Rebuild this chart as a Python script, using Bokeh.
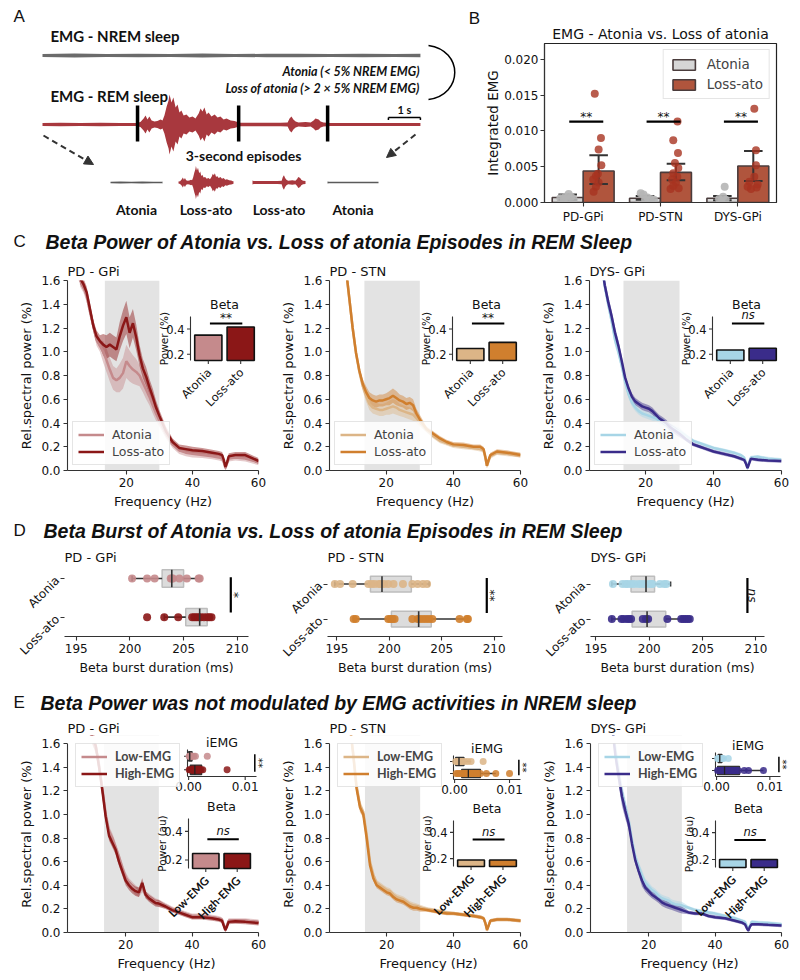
import math
import numpy as np
from bokeh.plotting import figure
from bokeh.layouts import column, row
from bokeh.models import (Range1d, FixedTicker, PrintfTickFormatter, BoxAnnotation,
                          Legend, LegendItem, Arrow, NormalHead, Label)
from bokeh.core.properties import value
from bokeh.embed import file_html
from bokeh.resources import INLINE

# ============================ DATA ============================
# --- Panel A: EMG envelopes (half amplitude) vs time (s)
nrem_t = [0.0, 1.0, 2.0, 3.0, 4.0, 5.0, 6.0, 7.0, 8.0, 9.0, 10.0, 11.0, 11.81]
nrem_env = [1.6, 1.9, 1.5, 1.8, 1.6, 1.9, 1.5, 1.7, 1.8, 1.5, 1.8, 1.6, 1.7]
rem_t = [0.00, 0.56, 1.19, 1.81, 2.44, 2.94, 3.06, 3.16, 3.22, 3.28, 3.34, 3.41, 3.50, 3.59, 3.69, 3.75,
         3.81, 3.88, 3.94, 3.97, 4.03, 4.09, 4.16, 4.22, 4.28, 4.34, 4.41, 4.50, 4.59, 4.69, 4.78, 4.88,
         4.94, 5.00, 5.06, 5.13, 5.19, 5.28, 5.38, 5.47, 5.56, 5.66, 5.75, 5.88, 6.00, 6.09, 6.19, 6.81,
         7.44, 7.66, 7.72, 7.78, 7.84, 7.91, 8.00, 8.22, 8.38, 8.47, 8.53, 8.63, 8.69, 8.78, 9.00, 9.94,
         10.88, 11.81]
rem_env = [1.5, 1.8, 1.5, 1.8, 1.5, 1.6, 2.5, 6, 9, 5, 8, 4, 3, 3.5, 5, 4,
           9, 18, 24, 30, 22, 27, 17, 20, 12, 14, 9, 10, 7, 8, 6, 11,
           16, 13, 17, 10, 12, 8, 10, 7, 8, 5, 6, 4, 3.5, 2.5, 1.8, 1.7,
           1.8, 2, 6, 8, 5, 3, 2, 2.5, 2, 4, 6, 5, 3, 2, 1.6, 1.5,
           1.6, 1.5]
episode_bounds = [0.0, 2.97, 6.13, 8.91, 11.81]
episode_names = ["Atonia", "Loss-ato", "Loss-ato", "Atonia"]

# --- Panel B: integrated EMG
b_groups = ["PD-GPi", "PD-STN", "DYS-GPi"]
b_atonia_mean = [0.0007, 0.0006, 0.0006]
b_atonia_lo = [0.0004, 0.0004, 0.0003]
b_atonia_hi = [0.0011, 0.0009, 0.0009]
b_loss_mean = [0.0044, 0.0042, 0.0051]
b_loss_lo = [0.0026, 0.0031, 0.0030]
b_loss_hi = [0.0066, 0.0054, 0.0072]
b_atonia_pts = [[0.0012, 0.0008, 0.0008, 0.0006, 0.0005, 0.0004, 0.0004],
                [0.0013, 0.0011, 0.0007, 0.0005, 0.0004, 0.0004],
                [0.0022, 0.0008, 0.0005, 0.0004, 0.0002]]
b_atonia_jit = [[0.013, -0.03, 0.043, -0.095, -0.05, 0.078, -0.01],
                [-0.056, -0.02, 0.03, 0.073, 0.0, 0.116],
                [0.03, 0.01, -0.043, 0.043, -0.013]]
b_loss_pts = [[0.0152, 0.0090, 0.0074, 0.0052, 0.0040, 0.0037, 0.0032, 0.0028, 0.0022, 0.0015],
              [0.0113, 0.0087, 0.0069, 0.0055, 0.0048, 0.0041, 0.0036, 0.0032, 0.0028, 0.0023, 0.0020, 0.0019],
              [0.0131, 0.0073, 0.0052, 0.0036, 0.0029, 0.0025, 0.0022, 0.0021, 0.0019]]
b_loss_jit = [[-0.05, 0.03, 0.0, 0.035, -0.01, -0.035, -0.07, 0.0, -0.035, -0.065],
              [0.02, -0.035, 0.026, -0.013, 0.03, -0.035, 0.017, -0.05, 0.0, -0.035, 0.035, -0.07],
              [0.013, 0.035, 0.035, 0.013, -0.05, 0.056, -0.073, 0.043, -0.03]]
b_sig = ["**", "**", "**"]
b_sig_y = 0.0113

# --- Spectra (C and E): relative spectral power (%) vs frequency (Hz)
freq = [4, 5, 6, 7, 8, 9, 10, 11, 12, 13, 14, 15, 16, 17, 18, 19, 20, 21, 22, 23, 24, 25, 26, 27, 28, 29, 30,
        32, 34, 36, 38, 40, 43, 46, 48, 49, 49.5, 50, 50.5, 51, 53, 56, 60]
beta_band = [13.5, 30]

c_gpi_atonia = [2.25, 1.95, 1.60, 1.55, 1.47, 1.34, 1.22, 1.10, 1.05, 1.00, 0.93, 0.85, 0.78, 0.76, 0.78, 0.82,
                0.92, 0.88, 0.85, 0.83, 0.80, 0.74, 0.68, 0.62, 0.55, 0.48, 0.42, 0.31, 0.22, 0.17, 0.15, 0.14,
                0.13, 0.12, 0.11, 0.10, 0.07, 0.02, 0.06, 0.10, 0.11, 0.10, 0.07]
c_gpi_loss = [2.30, 2.00, 1.62, 1.57, 1.50, 1.36, 1.22, 1.13, 1.09, 1.06, 1.04, 1.06, 1.04, 1.02, 1.13, 1.22,
              1.29, 1.16, 1.24, 1.12, 0.97, 0.86, 0.79, 0.70, 0.62, 0.53, 0.46, 0.33, 0.24, 0.19, 0.18, 0.17,
              0.165, 0.15, 0.14, 0.13, 0.09, 0.03, 0.07, 0.12, 0.13, 0.13, 0.08]
c_gpi_sem = [0.05, 0.05, 0.05, 0.05, 0.05, 0.05, 0.05, 0.05, 0.05, 0.09, 0.10, 0.10, 0.10, 0.10, 0.12, 0.13,
             0.14, 0.13, 0.12, 0.11, 0.09, 0.08, 0.08, 0.07, 0.07, 0.06, 0.05, 0.04, 0.03, 0.03, 0.03, 0.03,
             0.025, 0.025, 0.025, 0.025, 0.025, 0.025, 0.025, 0.025, 0.025, 0.025, 0.025]
c_stn_atonia = [3.50, 3.00, 2.40, 2.00, 1.70, 1.45, 1.20, 0.99, 0.83, 0.71, 0.63, 0.56, 0.53, 0.52, 0.51, 0.51,
                0.52, 0.53, 0.54, 0.53, 0.51, 0.50, 0.49, 0.48, 0.47, 0.44, 0.41, 0.34, 0.29, 0.25, 0.23, 0.21,
                0.20, 0.19, 0.18, 0.17, 0.11, 0.04, 0.08, 0.12, 0.15, 0.14, 0.13]
c_stn_loss = [3.50, 3.00, 2.40, 2.00, 1.70, 1.45, 1.20, 0.99, 0.84, 0.73, 0.66, 0.61, 0.59, 0.58, 0.59, 0.59,
              0.60, 0.61, 0.63, 0.61, 0.59, 0.58, 0.56, 0.57, 0.55, 0.48, 0.43, 0.35, 0.31, 0.27, 0.24, 0.22,
              0.215, 0.20, 0.20, 0.18, 0.12, 0.04, 0.09, 0.13, 0.16, 0.15, 0.13]
c_stn_sem = [0.03, 0.03, 0.03, 0.03, 0.03, 0.03, 0.03, 0.03, 0.03, 0.04, 0.05, 0.05, 0.05, 0.05, 0.05, 0.05,
             0.05, 0.06, 0.06, 0.06, 0.05, 0.05, 0.05, 0.05, 0.05, 0.04, 0.04, 0.02, 0.02, 0.02, 0.02, 0.02,
             0.02, 0.02, 0.02, 0.02, 0.02, 0.02, 0.02, 0.02, 0.02, 0.02, 0.02]
c_dys_atonia = [3.00, 2.50, 2.00, 1.74, 1.55, 1.40, 1.26, 1.10, 1.00, 0.88, 0.74, 0.64, 0.57, 0.53, 0.50, 0.48,
                0.47, 0.46, 0.45, 0.44, 0.42, 0.41, 0.39, 0.37, 0.36, 0.34, 0.33, 0.29, 0.25, 0.23, 0.21, 0.19,
                0.17, 0.15, 0.13, 0.11, 0.07, 0.02, 0.07, 0.11, 0.115, 0.10, 0.09]
c_dys_loss = [3.00, 2.50, 2.00, 1.75, 1.56, 1.42, 1.30, 1.16, 1.05, 0.92, 0.78, 0.69, 0.62, 0.58, 0.56, 0.54,
              0.53, 0.52, 0.50, 0.47, 0.44, 0.42, 0.40, 0.37, 0.35, 0.33, 0.31, 0.26, 0.22, 0.20, 0.18, 0.16,
              0.14, 0.12, 0.10, 0.09, 0.06, 0.02, 0.06, 0.10, 0.09, 0.085, 0.08]
c_dys_sem = [0.05, 0.05, 0.05, 0.05, 0.05, 0.05, 0.05, 0.05, 0.05, 0.04, 0.03, 0.03, 0.03, 0.03, 0.03, 0.03,
             0.03, 0.03, 0.03, 0.03, 0.03, 0.03, 0.03, 0.03, 0.03, 0.03, 0.03, 0.015, 0.015, 0.015, 0.015, 0.015,
             0.015, 0.015, 0.015, 0.015, 0.015, 0.015, 0.015, 0.015, 0.015, 0.015, 0.015]
c_beta_atonia = [0.352, 0.245, 0.234]
c_beta_loss = [0.416, 0.294, 0.248]
c_beta_sig = ["**", "**", "ns"]

e_gpi_low = [4.0, 3.5, 3.0, 2.5, 2.0, 1.75, 1.66, 1.58, 1.42, 1.22, 1.00, 0.86, 0.80, 0.72, 0.64, 0.55,
             0.47, 0.42, 0.39, 0.36, 0.34, 0.38, 0.32, 0.30, 0.28, 0.26, 0.25, 0.23, 0.20, 0.18, 0.16, 0.14,
             0.14, 0.13, 0.12, 0.11, 0.07, 0.03, 0.06, 0.10, 0.10, 0.10, 0.09]
e_gpi_high = [4.0, 3.5, 3.0, 2.5, 2.0, 1.75, 1.65, 1.58, 1.40, 1.20, 0.98, 0.82, 0.76, 0.70, 0.60, 0.52,
              0.44, 0.40, 0.37, 0.35, 0.34, 0.42, 0.32, 0.29, 0.27, 0.25, 0.245, 0.22, 0.19, 0.17, 0.15, 0.13,
              0.13, 0.12, 0.11, 0.10, 0.06, 0.02, 0.05, 0.09, 0.095, 0.09, 0.08]
e_gpi_sem = [0.06, 0.06, 0.06, 0.06, 0.06, 0.06, 0.06, 0.06, 0.06, 0.05, 0.04, 0.04, 0.04, 0.04, 0.04, 0.04,
             0.04, 0.04, 0.04, 0.04, 0.04, 0.04, 0.03, 0.03, 0.03, 0.03, 0.03, 0.02, 0.02, 0.02, 0.02, 0.02,
             0.02, 0.02, 0.02, 0.02, 0.02, 0.02, 0.02, 0.02, 0.02, 0.02, 0.02]
e_stn_low = [4.5, 4.0, 3.4, 2.8, 2.2, 1.76, 1.52, 1.24, 1.08, 1.02, 0.83, 0.60, 0.49, 0.42, 0.40, 0.38,
             0.36, 0.35, 0.32, 0.30, 0.29, 0.28, 0.26, 0.24, 0.23, 0.22, 0.21, 0.20, 0.19, 0.18, 0.17, 0.16,
             0.15, 0.14, 0.13, 0.12, 0.08, 0.03, 0.06, 0.10, 0.11, 0.11, 0.10]
e_stn_high = [4.5, 4.0, 3.4, 2.8, 2.2, 1.75, 1.50, 1.22, 1.06, 1.00, 0.80, 0.57, 0.46, 0.40, 0.38, 0.36,
              0.34, 0.33, 0.30, 0.28, 0.27, 0.26, 0.24, 0.22, 0.21, 0.21, 0.20, 0.19, 0.18, 0.17, 0.16, 0.16,
              0.15, 0.14, 0.13, 0.12, 0.08, 0.02, 0.06, 0.10, 0.11, 0.11, 0.10]
e_stn_sem = [0.04, 0.04, 0.04, 0.04, 0.04, 0.04, 0.04, 0.04, 0.04, 0.03, 0.03, 0.025, 0.025, 0.025, 0.025, 0.025,
             0.025, 0.025, 0.025, 0.025, 0.025, 0.025, 0.025, 0.025, 0.025, 0.025, 0.025, 0.015, 0.015, 0.015,
             0.015, 0.015, 0.015, 0.015, 0.015, 0.015, 0.015, 0.015, 0.015, 0.015, 0.015, 0.015, 0.015]
e_dys_low = [4.5, 4.0, 3.4, 2.8, 2.2, 1.76, 1.55, 1.36, 1.18, 1.06, 0.95, 0.78, 0.64, 0.56, 0.48, 0.42,
             0.39, 0.36, 0.34, 0.31, 0.29, 0.28, 0.27, 0.25, 0.24, 0.235, 0.23, 0.21, 0.19, 0.18, 0.17, 0.16,
             0.14, 0.12, 0.10, 0.09, 0.06, 0.02, 0.06, 0.09, 0.085, 0.08, 0.07]
e_dys_high = [4.5, 4.0, 3.4, 2.8, 2.2, 1.75, 1.50, 1.32, 1.15, 1.03, 0.92, 0.75, 0.61, 0.52, 0.44, 0.38,
              0.35, 0.32, 0.30, 0.28, 0.255, 0.24, 0.23, 0.22, 0.21, 0.20, 0.19, 0.17, 0.16, 0.16, 0.14, 0.13,
              0.12, 0.10, 0.085, 0.07, 0.04, 0.015, 0.05, 0.07, 0.07, 0.065, 0.06]
e_dys_sem = [0.06, 0.06, 0.06, 0.06, 0.06, 0.06, 0.07, 0.08, 0.08, 0.07, 0.05, 0.035, 0.035, 0.035, 0.05, 0.035,
             0.035, 0.03, 0.03, 0.03, 0.03, 0.03, 0.03, 0.03, 0.03, 0.03, 0.03, 0.015, 0.015, 0.015, 0.015,
             0.015, 0.015, 0.015, 0.015, 0.015, 0.015, 0.015, 0.015, 0.015, 0.015, 0.015, 0.015]
e_beta_low = [0.245, 0.19, 0.20]
e_beta_high = [0.245, 0.19, 0.20]
e_beta_sig = ["ns", "ns", "ns"]
# iEMG (box: q1, median, q3, whisker-low, whisker-high)
e_iemg_low = [[0.0001, 0.0002, 0.0003, 0.0004, 0.0006, 0.0009, 0.0012, 0.0033],
              [0.0002, 0.0005, 0.0008, 0.0011, 0.0014, 0.0018, 0.0024, 0.0030, 0.0052],
              [0.0002, 0.0004, 0.0006, 0.0008, 0.0010, 0.0013, 0.0022]]
e_iemg_high = [[0.0001, 0.0003, 0.0005, 0.0007, 0.0009, 0.0011, 0.0013, 0.0016, 0.0019, 0.0022, 0.0025, 0.0068],
               [0.0003, 0.0006, 0.0009, 0.0012, 0.0015, 0.0019, 0.0023, 0.0028, 0.0033, 0.0040, 0.0047, 0.0058,
                0.0075, 0.0100],
               [0.0002, 0.0005, 0.0008, 0.0012, 0.0016, 0.0020, 0.0026, 0.0033, 0.0041, 0.0052, 0.0060, 0.0088]]
e_iemg_low_box = [[0.0000, 0.0002, 0.0006, 0.0000, 0.0012],
                  [0.0002, 0.0008, 0.0017, 0.0000, 0.0030],
                  [0.0003, 0.0006, 0.0010, 0.0000, 0.0015]]
e_iemg_high_box = [[0.0003, 0.0011, 0.0023, 0.0000, 0.0026],
                   [0.0013, 0.0025, 0.0047, 0.0000, 0.0075],
                   [0.0002, 0.0015, 0.0043, 0.0000, 0.0088]]

# --- Panel D: beta burst duration (ms)
d_atonia = [[200.2, 201.6, 202.3, 203.8, 203.9, 204.0, 204.6, 205.3, 206.4, 206.5],
            [194.8, 195.3, 196.5, 198.0, 198.3, 198.6, 199.0, 199.2, 199.5, 199.9, 200.4, 201.3, 202.2, 202.7,
             203.2, 203.6],
            [196.6, 197.5, 197.8, 198.0, 198.3, 198.6, 199.0, 199.3, 199.6, 200.0, 200.2, 200.3, 201.0, 201.4,
             201.6]]
d_loss = [[201.6, 203.2, 204.5, 205.8, 206.0, 206.2, 206.4, 206.6, 206.9, 207.2, 207.4, 207.6],
          [196.6, 196.8, 199.9, 200.1, 200.3, 200.5, 202.2, 202.7, 202.9, 203.2, 203.5, 203.8, 204.1, 206.7,
           207.4, 207.5],
          [196.5, 197.4, 197.6, 197.9, 198.1, 198.3, 199.4, 199.7, 199.9, 201.7, 203.0, 203.2, 203.4, 203.6,
           203.8]]
d_atonia_box = [[203.0, 203.9, 205.0, 200.2, 206.6],
                [198.2, 199.3, 202.1, 194.8, 203.8],
                [198.3, 199.7, 200.5, 196.5, 202.0]]
d_loss_box = [[205.2, 206.5, 207.2, 203.2, 207.6],
              [200.2, 202.8, 204.0, 196.6, 207.5],
              [198.4, 199.8, 201.55, 196.5, 203.9]]
d_sig = ["*", "**", "ns"]
d_sig_x = [209.4, 209.3, 209.2]

panel_names = ["PD - GPi", "PD - STN", "DYS- GPi"]

# ============================ STYLE ============================
FONT = "DejaVu Sans"
BOLDF = "Lato"
LIGHT = ["#c58a8c", "#dcb587", "#a7d5e6"]
DARK = ["#8b1717", "#d07f2e", "#3a2c8a"]


def make_fig(w, h, xr, yr, borders, title=None, axes=True):
    L, R, T, B = borders
    extra = {} if axes else dict(x_axis_type=None, y_axis_type=None)
    p = figure(width=w, height=h, x_range=xr, y_range=yr, min_border_left=L, min_border_right=R,
               min_border_top=T, min_border_bottom=B, output_backend="svg", toolbar_location=None,
               title=title, frame_align=False, **extra)
    p.xgrid.visible = False
    p.ygrid.visible = False
    p.outline_line_color = None
    return p


def style_axes(p, tick="12px", lab="13px"):
    for ax in p.axis:
        ax.axis_line_color = "#333333"
        ax.axis_line_width = 1.1
        ax.major_tick_line_color = "#333333"
        ax.major_tick_line_width = 1.1
        ax.major_tick_out = 4
        ax.major_tick_in = 0
        ax.minor_tick_line_color = None
        ax.major_label_text_font = FONT
        ax.major_label_text_font_size = tick
        ax.major_label_text_color = "#111111"
        ax.major_label_standoff = 3
        ax.axis_label_text_font = FONT
        ax.axis_label_text_font_size = lab
        ax.axis_label_text_font_style = "normal"
        ax.axis_label_text_color = "#111111"
        ax.axis_label_standoff = 4
    if p.title is not None:
        p.title.text_font = FONT
        p.title.text_font_size = "13px"
        p.title.text_font_style = "normal"
        p.title.text_color = "#111111"
        p.title.standoff = 4


class Inset:
    """A small sub-axes drawn inside a figure via extra ranges."""

    def __init__(self, p, key, off, size, xr, yr):
        fw = p.width - p.min_border_left - p.min_border_right
        fh = p.height - p.min_border_top - p.min_border_bottom
        self.p = p
        self.kx = (xr[1] - xr[0]) / size[0]
        self.ky = (yr[1] - yr[0]) / size[1]
        xs = xr[0] - off[0] * self.kx
        ys = yr[0] - (fh - off[1] - size[1]) * self.ky
        xn, yn = key + "_x", key + "_y"
        p.extra_x_ranges[xn] = Range1d(xs, xs + fw * self.kx)
        p.extra_y_ranges[yn] = Range1d(ys, ys + fh * self.ky)
        self.kw = dict(x_range_name=xn, y_range_name=yn)

    def label(self, x, y, text, dx=0, dy=0, size="11px", align="center", base="middle", angle=0.0,
              font=FONT, style="normal", color="#111111"):
        self.p.add_layout(Label(x=x + dx * self.kx, y=y + dy * self.ky, text=text, angle=angle,
                                text_align=align, text_baseline=base, text_font=font,
                                text_font_size=size, text_font_style=style, text_color=color, **self.kw))


def beta_inset(p, key, off, size, yr, heights, colors, cats, ylab, sig, sig_y,
               cat_font=FONT, cat_style="normal", cat_size="11px"):
    xr = (-0.55, 1.55)
    ins = Inset(p, key, off, size, xr, yr)
    kw = ins.kw
    p.vbar(x=[0, 1], bottom=yr[0], top=heights, width=0.84, fill_color=colors, line_color="#111111",
           line_width=1.6, **kw)
    p.segment(x0=[xr[0]], y0=[yr[0]], x1=[xr[0]], y1=[yr[1]], line_color="#333333", line_width=1.1, **kw)
    p.ray(x=[xr[0], xr[0]], y=[0.2, 0.4], length=3.5, length_units="screen", angle=math.pi,
          line_color="#333333", line_width=1.1, **kw)
    p.ray(x=[0, 1], y=[yr[0], yr[0]], length=3.5, length_units="screen", angle=-math.pi / 2,
          line_color="#333333", line_width=1.1, **kw)
    for v in (0.2, 0.4):
        ins.label(xr[0], v, "%.1f" % v, dx=-6, align="right", size="11.5px")
    ins.label(xr[0], (yr[0] + yr[1]) / 2, ylab, dx=-27, angle=math.pi / 2, size="10.5px")
    ins.label(0.5, yr[1], "Beta", dy=5, base="bottom", size="12.5px")
    p.segment(x0=[0.05], y0=[sig_y], x1=[1.05], y1=[sig_y], line_color="black", line_width=2, **kw)
    if sig == "ns":
        ins.label(0.55, sig_y, sig, dy=1, base="bottom", size="11.5px", style="italic")
    else:
        ins.label(0.55, sig_y, sig, dy=-2, base="bottom", size="12px")
    for i, c in enumerate(cats):
        ins.label(i, yr[0], c, dx=1, dy=-10, align="right", base="middle", angle=math.pi / 4,
                  size=cat_size, font=cat_font, style=cat_style)


def iemg_inset(p, key, off, size, low, high, low_box, high_box, lc, dc):
    xr = (-0.0002, 0.012)
    yr = (1.5, -0.5)
    ins = Inset(p, key, off, size, xr, yr)
    kw = ins.kw
    p.segment(x0=[xr[0], xr[0]], y0=[1.5, 1.5], x1=[xr[1], xr[0]], y1=[1.5, -0.5], line_color="#333333",
              line_width=1.1, **kw)
    p.ray(x=[0.0, 0.01], y=[1.5, 1.5], length=3.5, length_units="screen", angle=-math.pi / 2,
          line_color="#333333", line_width=1.1, **kw)
    p.ray(x=[xr[0], xr[0]], y=[0, 1], length=3.5, length_units="screen", angle=math.pi,
          line_color="#333333", line_width=1.1, **kw)
    for t in (0.0, 0.01):
        ins.label(t, 1.5, "%.2f" % t, dy=-5, base="top", size="12px")
    ins.label((xr[0] + xr[1]) / 2, -0.5, "iEMG", dy=0, base="bottom", size="12.5px")
    for r, box, pts, c in ((0, low_box, low, lc), (1, high_box, high, dc)):
        q1, med, q3, wlo, whi = box
        p.segment(x0=[wlo, q3], y0=[r, r], x1=[q1, whi], y1=[r, r], line_color="#333333", line_width=1.3, **kw)
        p.hbar(y=[r], left=[q1], right=[q3], height=0.7, fill_color=c, line_color="#333333",
               line_width=1.3, **kw)
        p.scatter(x=pts, y=[r] * len(pts), size=7, fill_color=c, line_color=None, alpha=0.85, **kw)
        p.segment(x0=[med], y0=[r - 0.35], x1=[med], y1=[r + 0.35], line_color="#222222", line_width=1.3, **kw)
    p.segment(x0=[0.0117], y0=[-0.15], x1=[0.0117], y1=[1.15], line_color="black", line_width=1.5, **kw)
    ins.label(0.0117, 0.5, "**", dx=4, angle=-math.pi / 2, size="10px")


def spectral(title, xstart, xend, ytop, w, h, borders, lo, hi, sem, lc, dc, names, loc, legend_font=FONT,
             legend_style="normal", legend_margin=5):
    p = make_fig(w, h, Range1d(xstart, xend), Range1d(0, ytop), borders, title)
    style_axes(p)
    p.xaxis.bounds = (xstart, 60)
    p.yaxis.bounds = (0, 1.6)
    p.xaxis.ticker = FixedTicker(ticks=[20, 40, 60])
    p.yaxis.ticker = FixedTicker(ticks=[0, 0.2, 0.4, 0.6, 0.8, 1.0, 1.2, 1.4, 1.6])
    p.yaxis.formatter = PrintfTickFormatter(format="%.1f")
    p.xaxis.axis_label = "Frequency (Hz)"
    p.yaxis.axis_label = "Rel.spectral power (%)"
    p.add_layout(BoxAnnotation(left=beta_band[0], right=beta_band[1], fill_color="#e3e3e3", fill_alpha=1.0,
                               line_color=None, level="underlay"))
    for ys, c in ((lo, lc), (hi, dc)):
        p.varea(x=freq, y1=[a - s for a, s in zip(ys, sem)], y2=[a + s for a, s in zip(ys, sem)],
                fill_color=c, fill_alpha=0.45)
    r1 = p.line(freq, lo, line_color=lc, line_width=2.5)
    r2 = p.line(freq, hi, line_color=dc, line_width=2.5)
    if ytop > 1.6:
        # blank strip above the 1.6 axis limit (room for inset titles)
        p.add_layout(BoxAnnotation(bottom=1.6, fill_color="white", fill_alpha=1.0, line_color=None))
    leg = Legend(items=[LegendItem(label=names[0], renderers=[r1]), LegendItem(label=names[1], renderers=[r2])],
                 location=loc)
    leg.margin = legend_margin
    leg.padding = 5
    leg.spacing = 2
    leg.glyph_width = 26
    leg.glyph_height = 15
    leg.label_standoff = 8
    leg.border_line_color = "#cccccc"
    leg.background_fill_alpha = 0.85
    leg.label_text_font = legend_font
    leg.label_text_font_style = legend_style
    leg.label_text_font_size = "12.5px"
    p.add_layout(leg)
    return p


def header(h, letter, title, y, tx):
    p = make_fig(800, h, Range1d(0, 800), Range1d(h, 0), (0, 0, 0, 0), axes=False)
    p.text(x=[13], y=[y], text=[letter], text_font=value("Liberation Sans"), text_font_size="17px",
           text_baseline="middle", text_align="left", text_color="#111111")
    p.text(x=[tx], y=[y], text=[title], text_font=value("Liberation Sans"), text_font_style="bold italic",
           text_font_size="19.5px", text_baseline="middle", text_align="left", text_color="#111111")
    return p


# ============================ PANEL A ============================
pA = make_fig(480, 226, Range1d(0, 480), Range1d(226, 0), (0, 0, 0, 0), axes=False)
T0_PX, PX_PER_S = 42.0, 32.0
pA.extra_x_ranges = {"t": Range1d((0 - T0_PX) / PX_PER_S, (480 - T0_PX) / PX_PER_S)}
NREM_Y, REM_Y, EP_Y = 55, 124, 182
pA.varea(x=nrem_t, y1=[NREM_Y - e for e in nrem_env], y2=[NREM_Y + e for e in nrem_env],
         x_range_name="t", fill_color="#6b6b6b")
pA.varea(x=rem_t, y1=[REM_Y - e for e in rem_env], y2=[REM_Y + e for e in rem_env],
         x_range_name="t", fill_color="#a8383e")
pA.segment(x0=episode_bounds[1:4], y0=[105] * 3, x1=episode_bounds[1:4], y1=[141] * 3, x_range_name="t",
           line_color="black", line_width=3.5)
t_end = rem_t[-1]
pA.segment(x0=[t_end - 1.0, t_end - 1.0, t_end], y0=[117, 117, 117], x1=[t_end, t_end - 1.0, t_end],
           y1=[117, 119.5, 119.5], x_range_name="t", line_color="black", line_width=1.5)
pA.text(x=[t_end - 0.5], y=[109], text=["1 s"], x_range_name="t", text_align="center", text_baseline="middle",
        text_font=value(BOLDF), text_font_style="bold", text_font_size="11px", text_color="#111111")
# extracted 3-second episodes
ep_x0 = [110, 178, 252, 327]
ep_w = [52, 55, 53, 51]
ep_gain = [0.5, 0.55, 0.9, 0.5]
ep_col = ["#5a5a5a", "#a8383e", "#a8383e", "#5a5a5a"]
for i in range(4):
    t0, t1 = episode_bounds[i], episode_bounds[i + 1]
    ts = [t0] + [t for t in rem_t if t0 < t < t1] + [t1]
    es = np.interp(ts, rem_t, rem_env)
    xs = [ep_x0[i] + (t - t0) / (t1 - t0) * ep_w[i] for t in ts]
    pA.varea(x=xs, y1=[EP_Y - ep_gain[i] * e for e in es], y2=[EP_Y + ep_gain[i] * e for e in es],
             fill_color=ep_col[i])
    pA.text(x=[ep_x0[i] + ep_w[i] / 2], y=[209], text=[episode_names[i]], text_align="center",
            text_baseline="middle", text_font=value(BOLDF), text_font_style="bold", text_font_size="14px",
            text_color="#111111")
for xs_, ys_, xe_, ye_ in ((43, 135, 93, 164), (415, 134, 386, 157)):
    pA.add_layout(Arrow(x_start=xs_, y_start=ys_, x_end=xe_, y_end=ye_, line_color="#333333", line_width=2,
                        line_dash="6 4", end=NormalHead(size=9, fill_color="#333333", line_color="#333333")))
pA.bezier(x0=[428], y0=[45], x1=[428], y1=[99], cx0=[463], cy0=[50], cx1=[463], cy1=[94],
          line_color="black", line_width=1.5)
for txt, x, y, al, fs in (("EMG - NREM sleep", 50, 35, "left", "15px"), ("EMG - REM sleep", 50, 95, "left", "15px"),
                          ("3-second episodes", 243, 155, "center", "14px")):
    pA.text(x=[x], y=[y], text=[txt], text_align=al, text_baseline="middle", text_font=value(BOLDF),
            text_font_style="bold", text_font_size=fs, text_color="#111111")
for txt, y in (("Atonia (< 5% NREM EMG)", 71), ("Loss of atonia (> 2 × 5% NREM EMG)", 88)):
    pA.text(x=[419], y=[y], text=[txt], text_align="right", text_baseline="middle", text_font=value(BOLDF),
            text_font_style="bold italic", text_font_size="12.5px", text_color="#111111")
pA.text(x=[13], y=[16], text=["A"], text_align="left", text_baseline="middle",
        text_font=value("Liberation Sans"), text_font_size="17px", text_color="#111111")
pA.text(x=[474], y=[18], text=["B"], text_align="center", text_baseline="middle",
        text_font=value("Liberation Sans"), text_font_size="17px", text_color="#111111")

# ============================ PANEL B ============================
pB = make_fig(320, 226, Range1d(-0.5, 2.5), Range1d(0, 0.0222), (64, 24, 43, 23),
              title="EMG - Atonia vs. Loss of atonia")
style_axes(pB, tick="12px", lab="13.5px")
pB.title.align = "center"
pB.title.text_font_size = "14px"
pB.yaxis.axis_label_standoff = 0
pB.yaxis.major_label_standoff = 2
pB.outline_line_color = "#222222"
pB.outline_line_width = 1.2
pB.xaxis.ticker = FixedTicker(ticks=[0, 1, 2])
pB.xaxis.major_label_overrides = {0: b_groups[0], 1: b_groups[1], 2: b_groups[2],
                                  "0": b_groups[0], "1": b_groups[1], "2": b_groups[2]}
pB.yaxis.ticker = FixedTicker(ticks=[0, 0.005, 0.01, 0.015, 0.02])
pB.yaxis.formatter = PrintfTickFormatter(format="%.3f")
pB.yaxis.axis_label = "Integrated EMG"
xa = [i - 0.2 for i in range(3)]
xl = [i + 0.2 for i in range(3)]
ra = pB.vbar(x=xa, top=b_atonia_mean, width=0.4, fill_color="#d6d6d6", line_color="#4a3c3c", line_width=1.6)
rl = pB.vbar(x=xl, top=b_loss_mean, width=0.4, fill_color="#b0553d", line_color="#4a3c3c", line_width=1.6)
for xs_, lo_, hi_ in ((xa, b_atonia_lo, b_atonia_hi), (xl, b_loss_lo, b_loss_hi)):
    pB.segment(x0=xs_, y0=lo_, x1=xs_, y1=hi_, line_color="#333333", line_width=2)
    pB.segment(x0=[x - 0.12 for x in xs_], y0=hi_, x1=[x + 0.12 for x in xs_], y1=hi_, line_color="#333333",
               line_width=2)
    pB.segment(x0=[x - 0.12 for x in xs_], y0=lo_, x1=[x + 0.12 for x in xs_], y1=lo_, line_color="#333333",
               line_width=2)
for g in range(3):
    pB.scatter(x=[xa[g] + j for j in b_atonia_jit[g]], y=b_atonia_pts[g], size=8, fill_color="#b5b5b5",
               line_color=None, alpha=0.9)
    pB.scatter(x=[xl[g] + j for j in b_loss_jit[g]], y=b_loss_pts[g], size=8, fill_color="#a83320",
               line_color=None, alpha=0.8)
pB.segment(x0=[g - 0.18 for g in range(3)], y0=[b_sig_y] * 3, x1=[g + 0.26 for g in range(3)],
           y1=[b_sig_y] * 3, line_color="black", line_width=2.2)
pB.text(x=[g + 0.04 for g in range(3)], y=[b_sig_y] * 3, text=b_sig, text_align="center",
        text_baseline="bottom", text_font=value(FONT), text_font_size="12px", y_offset=2, text_color="#111111")
legB = Legend(items=[LegendItem(label="Atonia", renderers=[ra]), LegendItem(label="Loss-ato", renderers=[rl])],
              location="top_right")
legB.margin = 6
legB.padding = 6
legB.spacing = 4
legB.glyph_width = 28
legB.glyph_height = 13
legB.label_standoff = 9
legB.label_text_font = FONT
legB.label_text_font_size = "13.5px"
legB.border_line_color = "#cccccc"
pB.add_layout(legB)

# ============================ PANEL C ============================
c_lo = [c_gpi_atonia, c_stn_atonia, c_dys_atonia]
c_hi = [c_gpi_loss, c_stn_loss, c_dys_loss]
c_sem = [c_gpi_sem, c_stn_sem, c_dys_sem]
c_xstart = [2.2, 3.1, 3.5]
c_w = [270, 265, 265]
c_borders = [(67, 12, 25, 45), (59, 15, 25, 45), (54, 19, 25, 45)]
c_figs = []
for i in range(3):
    p = spectral(panel_names[i], c_xstart[i], 60, 1.6, c_w[i], 260, c_borders[i], c_lo[i], c_hi[i], c_sem[i],
                 LIGHT[i], DARK[i], ["Atonia", "Loss-ato"], "bottom_left")
    beta_inset(p, "cb", (123, 36), (68, 44), (0.15, 0.5), [c_beta_atonia[i], c_beta_loss[i]],
               [LIGHT[i], DARK[i]], ["Atonia", "Loss-ato"], "Power (%)", c_beta_sig[i], 0.445,
               cat_size="11.5px")
    c_figs.append(p)

# ============================ PANEL D ============================
d_xr = [(193.9, 211.05), (194.1, 210.8), (194.5, 210.8)]
d_top = [-0.31, -0.5, -0.5]
d_w = [270, 265, 265]
d_borders = [(64, 22, 21, 49), (57, 33, 21, 49), (52, 36, 21, 49)]
d_sig_y = [(-0.03, 0.88), (-0.17, 0.83), (-0.17, 0.83)]
d_figs = []
for i in range(3):
    p = make_fig(d_w[i], 140, Range1d(*d_xr[i]), Range1d(1.5, d_top[i]), d_borders[i], panel_names[i])
    style_axes(p, tick="12px", lab="12.5px")
    p.xaxis.ticker = FixedTicker(ticks=[195, 200, 205, 210])
    p.xaxis.axis_label = "Beta burst duration (ms)"
    p.yaxis.ticker = FixedTicker(ticks=[0, 1])
    p.yaxis.major_label_overrides = {0: "Atonia", 1: "Loss-ato", "0": "Atonia", "1": "Loss-ato"}
    p.yaxis.major_label_orientation = math.pi / 4
    p.yaxis.axis_line_color = None
    for r, box, pts, col in ((0, d_atonia_box[i], d_atonia[i], LIGHT[i]), (1, d_loss_box[i], d_loss[i], DARK[i])):
        q1, med, q3, wlo, whi = box
        p.hbar(y=[r], left=[q1], right=[q3], height=0.45, fill_color="#d6d6d6", fill_alpha=0.85,
               line_color="#bdbdbd", line_width=1.5)
        p.segment(x0=[wlo, q3], y0=[r, r], x1=[q1, whi], y1=[r, r], line_color="#333333", line_width=1.6)
        p.segment(x0=[wlo, whi], y0=[r - 0.07, r - 0.07], x1=[wlo, whi], y1=[r + 0.07, r + 0.07],
                  line_color="#333333", line_width=1.6)
        p.scatter(x=pts, y=[r] * len(pts), size=8, fill_color=col, line_color=None, alpha=0.9)
        p.segment(x0=[med], y0=[r - 0.225], x1=[med], y1=[r + 0.225], line_color="#333333", line_width=1.6)
    p.segment(x0=[d_sig_x[i]], y0=[d_sig_y[i][0]], x1=[d_sig_x[i]], y1=[d_sig_y[i][1]], line_color="black",
              line_width=2.2)
    p.add_layout(Label(x=d_sig_x[i], y=sum(d_sig_y[i]) / 2, text=d_sig[i], x_offset=5 if d_sig[i] == "ns" else 3,
                       angle=-math.pi / 2, text_align="center", text_baseline="middle", text_font=FONT,
                       text_font_size="12px", text_font_style="italic" if d_sig[i] == "ns" else "normal",
                       text_color="#111111"))
    d_figs.append(p)

# ============================ PANEL E ============================
e_lo = [e_gpi_low, e_stn_low, e_dys_low]
e_hi = [e_gpi_high, e_stn_high, e_dys_high]
e_sem = [e_gpi_sem, e_stn_sem, e_dys_sem]
e_xstart = [2.5, 2.9, 2.5]
e_xend = [62.1, 62.1, 62.1]
e_ytop = 1.668
e_w = [270, 265, 265]
e_borders = [(67, 5, 20, 44), (59, 8, 20, 44), (55, 12, 20, 44)]
e_iemg_off = [(120, 14), (124, 20), (125, 17)]
e_iemg_size = [(69, 27), (67, 24), (65, 24)]
e_beta_off = [(121, 83), (124, 85), (125, 85)]
e_beta_size = [(66, 50), (67, 46), (66, 47)]
e_figs = []
for i in range(3):
    p = spectral(panel_names[i], e_xstart[i], e_xend[i], e_ytop, e_w[i], 261, e_borders[i], e_lo[i], e_hi[i],
                 e_sem[i], LIGHT[i], DARK[i], ["Low-EMG", "High-EMG"], "top_left", legend_font=BOLDF,
                 legend_style="bold", legend_margin=8)
    p.title.standoff = 0
    iemg_inset(p, "ie", e_iemg_off[i], e_iemg_size[i], e_iemg_low[i], e_iemg_high[i], e_iemg_low_box[i],
               e_iemg_high_box[i], LIGHT[i], DARK[i])
    beta_inset(p, "eb", e_beta_off[i], e_beta_size[i], (0.14, 0.49), [e_beta_low[i], e_beta_high[i]],
               [LIGHT[i], DARK[i]], ["Low-EMG", "High-EMG"], "Power (au)", e_beta_sig[i], 0.345,
               cat_font=BOLDF, cat_style="bold", cat_size="11.5px")
    e_figs.append(p)

# ============================ LAYOUT ============================
hC = header(29, "C", "Beta Power of Atonia vs. Loss of atonia Episodes in REM Sleep", 15, 45)
hD = header(30, "D", "Beta Burst of Atonia vs. Loss of atonia Episodes in REM Sleep", 15, 43)
hE = header(30, "E", "Beta Power was not modulated by EMG activities in NREM sleep", 17, 40)

layout = column(row(pA, pB), hC, row(*c_figs), hD, row(*d_figs), hE, row(*e_figs))
open("out.html", "w").write(file_html(layout, INLINE))
